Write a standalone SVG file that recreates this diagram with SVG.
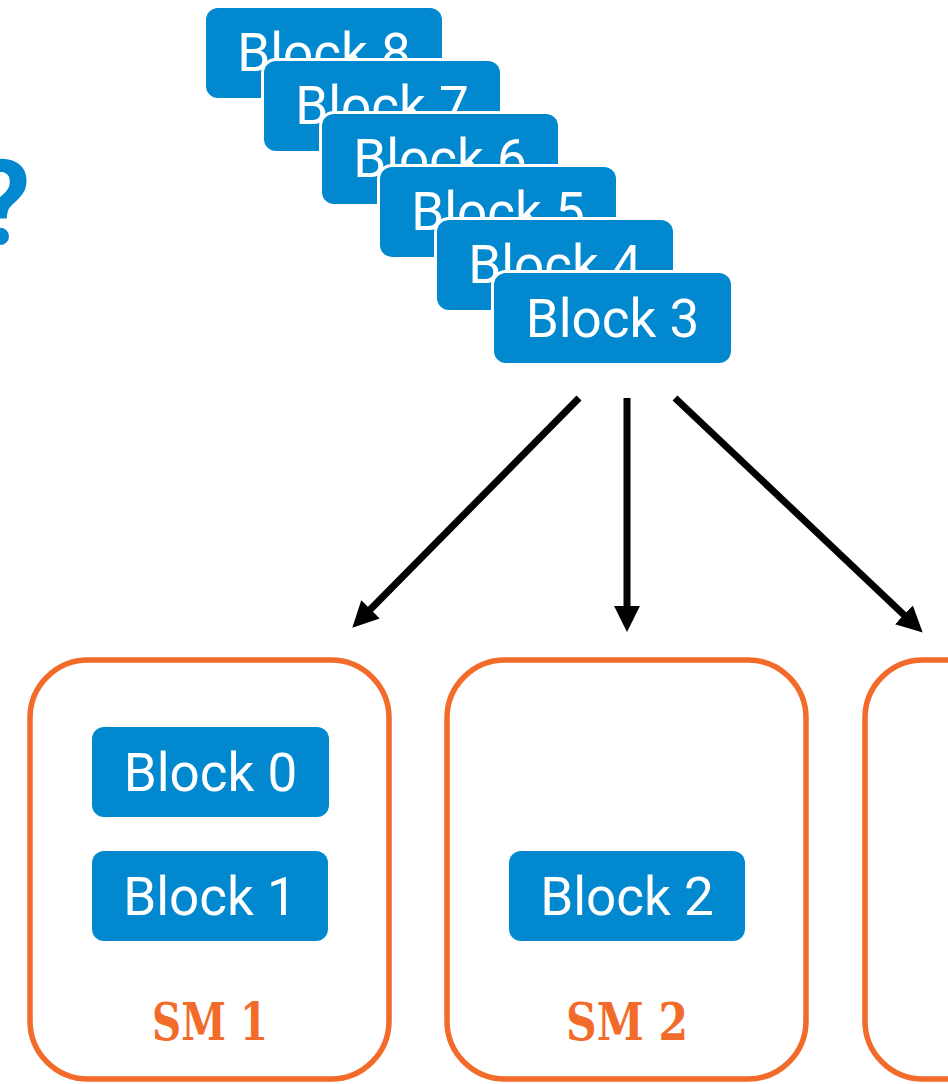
<svg xmlns="http://www.w3.org/2000/svg" width="948" height="1084" viewBox="0 0 948 1084">
  <style>
    .blk { fill: #0288CE; stroke: #ffffff; stroke-width: 6; paint-order: stroke; }
    .blk-t { fill: #ffffff; font-family: Roboto, "Liberation Sans", sans-serif; font-size: 53px; text-anchor: middle; }
    .sm { fill: none; stroke: #F26B2A; stroke-width: 5.5; }
    .sm-t { fill: #F26B2A; font-family: "DejaVu Serif", "Liberation Serif", serif; font-weight: bold; font-size: 52px; text-anchor: middle; }
    .arrow { stroke: #000000; stroke-width: 7; fill: none; marker-end: url(#head); }
  </style>
  <defs>
    <marker id="head" viewBox="0 0 10 10" markerWidth="3.7" markerHeight="3.7" refX="5" refY="5" orient="auto" markerUnits="strokeWidth">
      <path d="M0,0 L10,5 L0,10 z" fill="#000000"/>
    </marker>
  </defs>
  <rect width="948" height="1084" fill="#ffffff"/>

  <!-- question mark, cut by the left edge -->
  <text id="question" x="-28" y="244" fill="#0288CE" font-family="Roboto, 'Liberation Sans', sans-serif" font-weight="bold" font-size="118">?</text>

  <!-- queue of pending blocks, back to front -->
  <g id="block8"><rect class="blk" x="206" y="8" width="236" height="90" rx="12"/><text class="blk-t" x="324" y="71">Block 8</text></g>
  <g id="block7"><rect class="blk" x="264" y="61" width="236" height="90" rx="12"/><text class="blk-t" x="382" y="124">Block 7</text></g>
  <g id="block6"><rect class="blk" x="322" y="114" width="236" height="90" rx="12"/><text class="blk-t" x="440" y="177">Block 6</text></g>
  <g id="block5"><rect class="blk" x="380" y="167" width="236" height="90" rx="12"/><text class="blk-t" x="498" y="230">Block 5</text></g>
  <g id="block4"><rect class="blk" x="437" y="220" width="236" height="90" rx="12"/><text class="blk-t" x="555" y="283">Block 4</text></g>
  <g id="block3"><rect class="blk" x="494" y="273" width="237" height="90" rx="12"/><text class="blk-t" x="612.5" y="337">Block 3</text></g>

  <!-- dispatch arrows -->
  <g id="connectors">
    <line class="arrow" x1="579" y1="398" x2="361.4" y2="618.5"/>
    <line class="arrow" x1="627" y1="398" x2="627" y2="619"/>
    <line class="arrow" x1="675" y1="398" x2="913.3" y2="623.7"/>
  </g>

  <!-- streaming multiprocessors -->
  <g id="sm1">
    <rect class="sm" x="30" y="660" width="359" height="419" rx="58"/>
    <text class="sm-t" x="210" y="1040" textLength="116" lengthAdjust="spacingAndGlyphs">SM 1</text>
  </g>
  <g id="block0"><rect class="blk" x="92" y="727" width="237" height="90" rx="12"/><text class="blk-t" x="210.5" y="791">Block 0</text></g>
  <g id="block1"><rect class="blk" x="92" y="851" width="236" height="90" rx="12"/><text class="blk-t" x="210" y="915">Block 1</text></g>

  <g id="sm2">
    <rect class="sm" x="447" y="660" width="359" height="419" rx="58"/>
    <text class="sm-t" x="627" y="1040" textLength="122" lengthAdjust="spacingAndGlyphs">SM 2</text>
  </g>
  <g id="block2"><rect class="blk" x="509" y="851" width="236" height="90" rx="12"/><text class="blk-t" x="627" y="915">Block 2</text></g>

  <g id="sm3">
    <rect class="sm" x="865" y="660" width="359" height="419" rx="58"/>
  </g>
</svg>
